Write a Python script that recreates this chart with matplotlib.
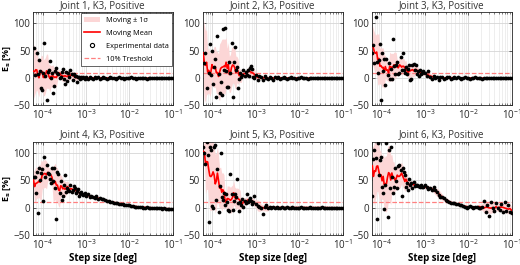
import numpy as np
import pandas as pd
import matplotlib
matplotlib.use('Agg')
import matplotlib.pyplot as plt
from matplotlib.lines import Line2D
from matplotlib.patches import Patch

plt.rcParams['font.family'] = ['Open Sans', 'DejaVu Sans']
plt.rcParams['mathtext.fontset'] = 'dejavusans'

# step sizes [deg], shared by all joints
step_size = [
    6.17e-5, 6.53e-5, 6.92e-5, 7.33e-5, 7.76e-5, 8.22e-5, 8.71e-5, 9.23e-5, 9.77e-5,
    1.035e-4, 1.096e-4, 1.161e-4, 1.230e-4, 1.303e-4, 1.380e-4, 1.462e-4, 1.549e-4,
    1.641e-4, 1.738e-4, 1.841e-4, 1.950e-4, 2.065e-4, 2.188e-4, 2.317e-4, 2.455e-4,
    2.600e-4, 2.754e-4, 2.917e-4, 3.090e-4, 3.273e-4, 3.467e-4, 3.673e-4, 3.890e-4,
    4.121e-4, 4.365e-4, 4.624e-4, 4.898e-4, 5.188e-4, 5.495e-4, 5.821e-4, 6.166e-4,
    6.531e-4, 6.918e-4, 7.328e-4, 7.762e-4, 8.222e-4, 8.710e-4, 9.226e-4,
    1.0e-3, 1.096e-3, 1.202e-3, 1.318e-3, 1.445e-3, 1.585e-3, 1.738e-3, 1.905e-3,
    2.089e-3, 2.291e-3, 2.512e-3, 2.754e-3, 3.020e-3, 3.311e-3, 3.631e-3, 3.981e-3,
    4.365e-3, 4.786e-3, 5.248e-3, 5.754e-3, 6.310e-3, 6.918e-3, 7.586e-3, 8.318e-3,
    9.120e-3, 1.0e-2, 1.096e-2, 1.202e-2, 1.318e-2, 1.445e-2, 1.585e-2, 1.738e-2,
    1.905e-2, 2.089e-2, 2.291e-2, 2.512e-2, 2.754e-2, 3.020e-2, 3.311e-2, 3.631e-2,
    3.981e-2, 4.365e-2, 4.786e-2, 5.248e-2, 5.754e-2, 6.310e-2, 6.918e-2, 7.586e-2,
    8.318e-2, 9.120e-2, 1.0e-1,
]

# E_s [%] per joint
joint1 = [55, 5, -55, 45, 8, 33, 12, -18, -22, 10, 63, 3, -40, 11, 14, 31, 0, 9, -28, -15,
          13, 18, 10, 7, 0, 2, 11, 16, -2, -11, 11, -5, 10, 2, 15, 8, -4, 7, 3, 3,
          -7, 1, 2, -2, 1, 0, 2, -1,
          1, -1, 2, 0, -2, 1, 0, 1, -1, 0, 1, 0, -1, 0, 1, 0, 0, -1, 0, 1,
          0, 0, -1, 0, 0, 0, 1, 0, 0, -1, 0, 0, 0, 0, 0, -1, 0, 0, 0, 0,
          0, 0, 0, 0, 0, 0, 0, 0, 0, 0, 0]
joint2 = [130, 27, 45, -18, -55, 10, 62, 5, 49, -10, 20, 35, -34, 77, 8, -28, -7, -31, 89, 15,
          91, 12, -17, -17, 29, 10, 63, -35, 29, 57, 14, 20, -18, -2, 9, 2, 6, 14, 4, 11,
          5, 14, 3, 19, 22, 16, 2, 0,
          6, -3, 4, 2, -4, 3, 0, -2, 2, 0, -3, 1, 0, 2, -1, 0, 1, 0, -1, 0,
          1, 0, 0, -1, 0, 0, 1, 0, 0, 0, -1, 0, 0, 0, 0, 0, 0, 0, 0, 0,
          0, 0, 0, 0, 0, 0, 0, 0, 0, 0, 0]
joint3 = [45, 60, 27, 111, 29, 10, 33, 62, -40, 45, 12, 35, -13, 35, 5, 27, -2, 16, -2, 71,
          22, 8, 24, 30, 8, 9, 38, 14, 45, 15, 10, 20, 7, 16, 24, -3, -1, 24, 25, 15,
          24, 7, 12, 3, 15, 8, 10, 12,
          9, 3, 12, 1, -2, 3, 0, 2, -3, 1, 2, -2, 0, 1, 2, -1, 0, 1, 0, 1,
          0, -1, 0, 1, 0, 0, -1, 0, 0, 1, 0, 0, 0, -1, 0, 0, 0, 0, 0, 0,
          0, 0, 0, 0, 0, 0, 0, 0, 0, 0, 0]
joint4 = [55, 55, 26, 65, -9, 72, 50, 64, 70, 12, 93, 55, 78, 64, 61, 53, 45, 73, 48, 72,
          35, -21, 65, 62, 26, 48, 14, 22, 41, 59, 29, 36, 33, 30, 41, 29, 32, 39, 35, 26,
          30, 34, 21, 27, 29, 25, 23, 26,
          22, 24, 20, 21, 19, 17, 21, 16, 17, 15, 15, 14, 12, 12, 11, 10, 9, 9, 8, 7,
          7, 6, 5, 5, 4, 4, 3, 3, 2, 2, 1, 1, 1, 0, 0, 1, 0, 0, -1, 0,
          -1, -1, -1, -1, -2, -1, -2, -2, -2, -3, -2]
joint5 = [110, 100, 80, 120, 95, -27, 110, 105, 3, -1, 111, 114, 14, 70, -8, 40, 99, 20, 14, 26,
          5, 24, 10, -4, -6, 61, 24, -4, 12, 24, 20, 53, 8, -6, 10, 5, 15, 2, 12, 8,
          24, 10, 14, 17, 12, 6, 10, 21,
          6, 3, 2, -1, -12, 1, 5, 0, 2, -1, 1, 0, 2, -1, 0, 1, 0, -1, 1, 0,
          0, 1, 0, -1, 0, 0, 1, 0, -1, 0, 0, 1, 0, 0, -1, 0, 0, 0, 1, 0,
          0, -1, 0, 0, 0, 0, 0, -1, 0, 0, -1]
joint6 = [22, 88, 105, 90, -21, 118, 60, 87, 93, 38, 26, -3, 41, 117, -18, 105, 35, 110, 56, 26,
          38, 72, 48, 35, 75, 78, 68, 22, 73, 65, 59, 38, 44, 32, 53, 41, 45, 35, 47, 40,
          41, 42, 39, 40, 38, 41, 37, 38,
          41, 38, 34, 35, 33, 38, 32, 29, 23, 20, 19, 17, 14, 12, 10, 8, 9, 8, 6, 6,
          5, 4, 3, 2, -1, 2, 3, 1, 0, 2, 1, 0, -1, 1, 12, -8, 5, -15, 11, -1,
          -7, 8, 0, -4, 6, -8, 11, -6, 4, -8, -10]

joints = [joint1, joint2, joint3, joint4, joint5, joint6]
titles = ['Joint %d, K3, Positive' % (k + 1) for k in range(6)]
threshold = 10
window = 7

fig = plt.figure(figsize=(5.2, 2.65), dpi=100)
lefts = [0.0635, 0.390, 0.715]
bottoms = [0.602, 0.113]
w, h = 0.269, 0.352

x = np.array(step_size)
for k, es in enumerate(joints):
    r, c = divmod(k, 3)
    ax = fig.add_axes([lefts[c], bottoms[r], w, h])
    s = pd.Series(es, dtype=float)
    mean = s.rolling(window, center=True, min_periods=1).mean().values
    std = s.rolling(window, center=True, min_periods=2).std().fillna(0).values

    ax.fill_between(x, mean - std, mean + std, color='#fcd6d6', lw=0, zorder=1)
    ax.axhline(threshold, color='#ff8080', ls='--', lw=0.9, zorder=2)
    ax.plot(x, mean, color='#ff0000', lw=1.2, zorder=3)
    ax.plot(x, es, 'o', color='black', ms=2.7, mew=0, zorder=4)

    ax.set_xscale('log')
    ax.set_xlim(6e-5, 1e-1)
    ax.set_ylim(-50, 120)
    ax.set_yticks([-50, 0, 50, 100])
    ax.set_xticks([1e-4, 1e-3, 1e-2, 1e-1])
    ax.grid(True, which='major', color='#d6d6d6', lw=0.6, zorder=0)
    ax.grid(True, which='minor', axis='x', color='#e8e8e8', lw=0.5, zorder=0)
    ax.set_axisbelow(True)
    ax.tick_params(which='both', direction='in', top=True, right=True,
                   colors='#262626', labelsize=7, pad=2)
    ax.tick_params(which='major', length=2.5, width=0.5)
    ax.tick_params(which='minor', length=1.5, width=0.4)
    for sp in ax.spines.values():
        sp.set_color('#262626')
        sp.set_linewidth(0.6)
    ax.set_title(titles[k], fontsize=7, color='#333333', pad=3)
    if c == 0:
        ax.set_ylabel(r'E$_\mathbf{s}$ [%]', fontsize=6.5, fontweight='bold')
        ax.yaxis.set_label_coords(-0.14, 0.5)
    if r == 1:
        ax.set_xlabel('Step size [deg]', fontsize=7, fontweight='bold', labelpad=1)

    if k == 0:
        handles = [
            Patch(facecolor='#fcd6d6', edgecolor='none', label='Moving ± 1σ'),
            Line2D([], [], color='#ff0000', lw=1.2, label='Moving Mean'),
            Line2D([], [], ls='none', marker='o', mfc='none', mec='black', ms=3, mew=0.8,
                   label='Experimental data'),
            Line2D([], [], color='#ff8080', ls='--', lw=0.9, label='10% Treshold'),
        ]
        leg = ax.legend(handles=handles, loc='upper right', fontsize=5.3, frameon=True,
                        fancybox=False, edgecolor='#262626', framealpha=1,
                        borderaxespad=0.15, handlelength=2.2, labelspacing=0.8,
                        handletextpad=0.7, borderpad=0.45)
        leg.get_frame().set_linewidth(0.5)

fig.savefig('out.png', dpi=100)
